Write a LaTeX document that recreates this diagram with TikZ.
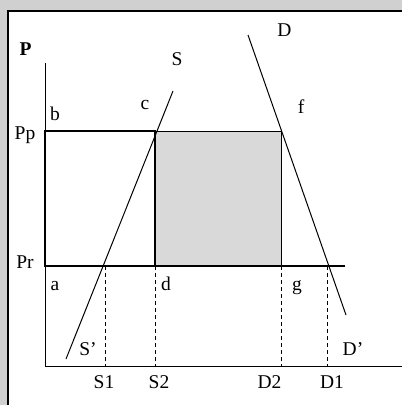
\documentclass[tikz,border=0pt]{standalone}
\usepackage{fontspec}
\setmainfont{Liberation Serif}
\definecolor{bgc}{RGB}{208,208,208}
\definecolor{boxc}{RGB}{217,217,217}
\begin{document}
\begin{tikzpicture}[x=1pt,y=-1pt,
  lbl/.style={anchor=base,inner sep=0pt,font=\fontsize{19.5}{22}\selectfont},
  thin/.style={line width=1pt},
  heavy/.style={line width=2.4pt},
  dsh/.style={line width=1pt,dash pattern=on 4pt off 3pt}]
\useasboundingbox (0,0) rectangle (402,405);
\fill[bgc] (0,0) rectangle (402,405);
\begin{scope}
\clip (0,0) rectangle (402,405);
\draw[line width=2.5pt,fill=white] (8,11) rectangle (420,420);
\end{scope}
% coordinates
\coordinate (O) at (45,366);
\coordinate (ytop) at (45,63);
\coordinate (xend) at (402,366);
\coordinate (A) at (45,266);
\coordinate (B) at (45,131);
\coordinate (C) at (155,131);
\coordinate (Dd) at (155,266);
\coordinate (F) at (281,131);
\coordinate (G) at (281,266);
\coordinate (PrE) at (345,266);
\coordinate (Stop) at (173,91);
\coordinate (Sbot) at (66,359);
\coordinate (Dtop) at (248,35);
\coordinate (Dbot) at (346,315);
\coordinate (s1t) at (105,266);
\coordinate (s1b) at (105,366);
\coordinate (s2b) at (155,366);
\coordinate (d2b) at (281,366);
\coordinate (d1t) at (327,266);
\coordinate (d1b) at (327,366);
% grey area
\filldraw[fill=boxc,draw=black,thin] (C) rectangle (G);
% axes
\draw[thin] (ytop) -- (O) -- (xend);
% Pr line
\draw[line width=2pt] (A) -- (PrE);
% thick rectangle
\draw[heavy] (B) rectangle (Dd);
% dashed verticals
\draw[dsh] (s1t) -- (s1b);
\draw[dsh] (Dd) -- (s2b);
\draw[dsh] (G) -- (d2b);
\draw[dsh] (d1t) -- (d1b);
% supply and demand
\draw[thin] (Stop) -- (Sbot);
\draw[thin] (Dtop) -- (Dbot);
% labels
\node[lbl,font=\fontsize{19.5}{22}\selectfont\bfseries] (lP) at (25.5,55) {P};
\node[lbl] (lS) at (177,65) {S};
\node[lbl] (lD) at (284.5,36) {D};
\node[lbl] (lc) at (145,109) {c};
\node[lbl] (lf) at (301,113) {f};
\node[lbl] (lb) at (55,120) {b};
\node[lbl] (lPp) at (25,139) {Pp};
\node[lbl] (lPr) at (25,268) {Pr};
\node[lbl] (la) at (55,290) {a};
\node[lbl] (ld) at (166,290) {d};
\node[lbl] (lg) at (297,290) {g};
\node[lbl] (lSp) at (88,355) {S’};
\node[lbl] (lDp) at (353,355) {D’};
\node[lbl] (lS1) at (104,388) {S1};
\node[lbl] (lS2) at (159,388) {S2};
\node[lbl] (lD2) at (269.5,388) {D2};
\node[lbl] (lD1) at (332,388) {D1};
\end{tikzpicture}
\end{document}
